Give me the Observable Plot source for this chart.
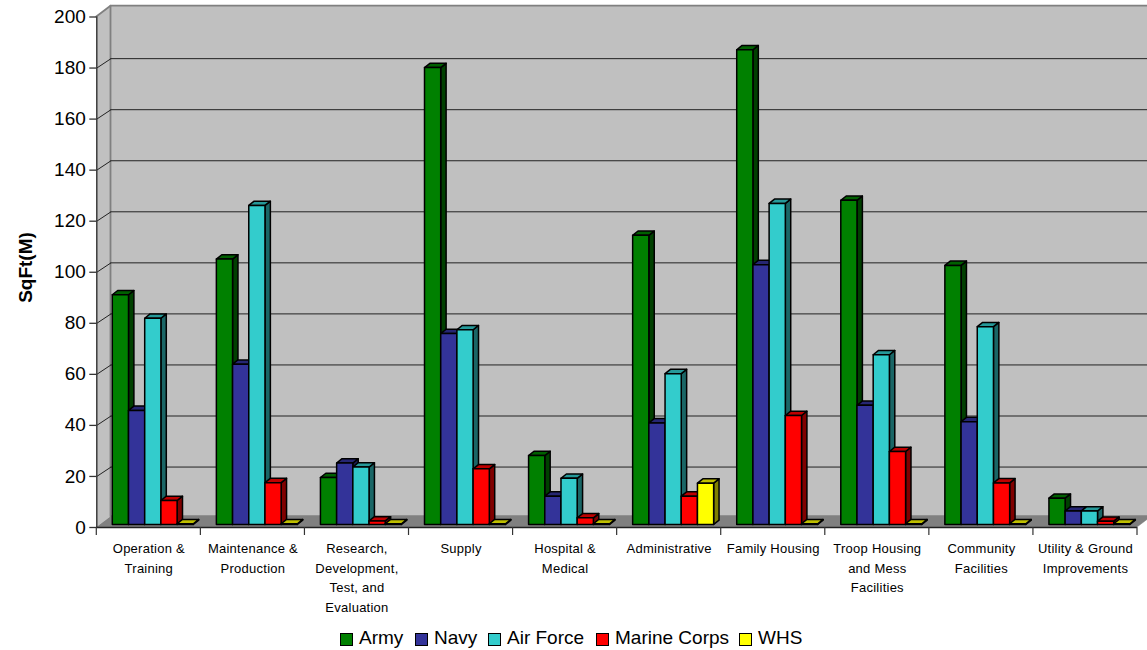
<!DOCTYPE html>
<html>
<head>
<meta charset="utf-8">
<script src="https://cdn.jsdelivr.net/npm/d3@7"></script>
<script src="https://cdn.jsdelivr.net/npm/@observablehq/plot@0.6"></script>
<style>
html,body{margin:0;padding:0;background:#fff;overflow:hidden}
#legend{position:relative;height:25px;font:19px "Liberation Sans",Arial,sans-serif;color:#000}
#legend span.s{position:absolute;top:8px;width:11px;height:11px;border:1.4px solid #000}
#legend span.t{position:absolute;top:0;line-height:25px;white-space:pre}
</style>
</head>
<body>
<div id="chart"></div>
<div id="legend"></div>
<script>
const categories = ["Operation &\nTraining","Maintenance &\nProduction","Research,\nDevelopment,\nTest, and\nEvaluation","Supply","Hospital &\nMedical","Administrative","Family Housing","Troop Housing\nand Mess\nFacilities","Community\nFacilities","Utility & Ground\nImprovements"];
const seriesNames = ["Army","Navy","Air Force","Marine Corps","WHS"];
const army    = [90,104,18.4,179,27,113.3,186,127,101.5,10.3];
const navy    = [44.7,62.8,24.1,74.8,11.1,39.8,101.8,46.7,40.3,5.3];
const airForce= [80.8,125,22.5,76.3,18.1,59.1,125.8,66.5,77.5,5.3];
const marines = [9.4,16.4,1.4,21.8,2.6,11.1,42.7,28.6,16.3,1.3];
const whs     = [0.3,0.3,0.3,0.3,0.3,16.2,0.3,0.3,0.3,0.3];
const yTicks  = d3.range(0,201,20);

const frontColors = ["#008000","#333399","#33CCCC","#FF0000","#FFFF00"];
const sideColors  = ["#004000","#1A1A4D","#1A6666","#800000","#808000"];
const topColors   = ["#006000","#262673","#269999","#BF0000","#BFBF00"];

const W = 1147, H = 625, mL = 96.3, mR = 10, mT = 16.5, mB = 98;
const pxX = (W-mL-mR)/10, pxY = (H-mT-mB)/200;
const wallDX = 14.2, wallDY = 10.8, gridDY = 9.4;
const barDX = 5.4, barDY = 4.3, barShiftY = 2.5;
const barStart = 16/pxX, barW = 16.2/pxX;

const allSeries = [army,navy,airForce,marines,whs];
const bars = [];
categories.forEach((c,i)=>allSeries.forEach((s,j)=>bars.push({i,j,name:seriesNames[j],value:s[i],
  x1:i+barStart+j*barW, x2:i+barStart+(j+1)*barW})));

const NS = "http://www.w3.org/2000/svg";
function poly(pts,fill,stroke,sw){
  const p=document.createElementNS(NS,"polygon");
  p.setAttribute("points",pts.map(d=>d.join(",")).join(" "));
  p.setAttribute("fill",fill);p.setAttribute("stroke",stroke);p.setAttribute("stroke-width",sw);
  p.setAttribute("stroke-linejoin","round");
  return p;
}
function barRender(index,scales,values){
  const g=document.createElementNS(NS,"g");
  for(const k of index){
    const b=bars[k], x1=values.x1[k], x2=values.x2[k], y0=values.y1[k]-barShiftY, y1=values.y2[k]-barShiftY;
    g.appendChild(poly([[x2,y0],[x2+barDX,y0-barDY],[x2+barDX,y1-barDY],[x2,y1]],sideColors[b.j],"#000",1.5));
    g.appendChild(poly([[x1,y1],[x1+barDX,y1-barDY],[x2+barDX,y1-barDY],[x2,y1]],topColors[b.j],"#000",1.5));
    g.appendChild(poly([[x1,y0],[x2,y0],[x2,y1],[x1,y1]],frontColors[b.j],"#000",1.5));
  }
  return g;
}
function wallRender(index,scales,values){
  const g=document.createElementNS(NS,"g");
  const x1=values.x1[0],x2=values.x2[0],y0=values.y1[0],y1=values.y2[0];
  g.appendChild(poly([[x1,y0],[x2,y0],[x2+wallDX,y0-wallDY],[x1+wallDX,y0-wallDY]],"#808080","#808080",0.5));
  g.appendChild(poly([[x1,y0],[x1+wallDX,y0-wallDY],[x1+wallDX,y1-wallDY],[x1,y1]],"#C0C0C0","none",0));
  g.appendChild(poly([[x1+wallDX,y0-wallDY],[x2+wallDX,y0-wallDY],[x2+wallDX,y1-wallDY],[x1+wallDX,y1-wallDY]],"#C0C0C0","#808080",1.8));
  g.appendChild(poly([[x1,y1],[x1+wallDX,y1-wallDY]],"none","#808080",1.8));
  return g;
}

const grid = yTicks.filter(v=>v>0 && v<200);

const chart = Plot.plot({
  width:W, height:H, marginLeft:mL, marginRight:mR, marginTop:mT, marginBottom:mB,
  style:{fontFamily:'"Liberation Sans",Arial,sans-serif',background:"#fff",color:"#000",overflow:"hidden"},
  x:{domain:[0,10],axis:null},
  y:{domain:[0,200],axis:null},
  marks:[
    Plot.rect([{x1:0,x2:10,y1:0,y2:200}],{x1:"x1",x2:"x2",y1:"y1",y2:"y2",render:wallRender}),
    Plot.ruleY(grid,{x1:0,x2:10.2,dx:wallDX,dy:-gridDY,stroke:"#222",strokeWidth:1}),
    Plot.link(grid,{x1:0,y1:v=>v,x2:wallDX/pxX,y2:v=>v+gridDY/pxY,stroke:"#222",strokeWidth:1}),
    Plot.rect(bars,{x1:"x1",x2:"x2",y1:()=>0,y2:"value",render:barRender}),
    Plot.ruleX([0],{y1:0,y2:200,stroke:"#333",strokeWidth:1.4}),
    Plot.ruleY([0],{x1:0,x2:10,stroke:"#222",strokeWidth:1.4}),
    Plot.axisY({ticks:yTicks,tickSize:7,tickPadding:4,fontSize:19,label:null,stroke:"#333",strokeWidth:1.3,color:"#000"}),
    Plot.tickX(d3.range(0,11),{y1:0,y2:0,x:d=>d,render:(index,scales,values)=>{
      const g=document.createElementNS(NS,"g");
      for(const k of index){const l=document.createElementNS(NS,"line");
        l.setAttribute("x1",values.x[k]);l.setAttribute("x2",values.x[k]);
        l.setAttribute("y1",scales.y(0));l.setAttribute("y2",scales.y(0)+8);
        l.setAttribute("stroke","#333");l.setAttribute("stroke-width",1.2);g.appendChild(l);}
      return g;}}),
    Plot.text(categories,{x:(d,i)=>i+0.5,y:()=>0,text:d=>d,dy:12,lineAnchor:"top",lineHeight:1.5,fontSize:13,fill:"#000"}),
    Plot.text(["SqFt(M)"],{x:()=>(25-mL)/pxX,y:()=>(H-mB-267)/pxY,text:d=>d,rotate:-90,fontWeight:"bold",fontSize:19,fill:"#000"})
  ]
});
document.getElementById("chart").appendChild(chart);
chart.style.display="block";
chart.querySelectorAll("text").forEach(t=>{
  const fs=t.closest("[font-size]");
  if(fs && fs.getAttribute("font-size")==="13") t.style.letterSpacing="0.25px";
});

const legend=document.getElementById("legend");
const swatchX=[340,415,488,596,739], textX=[359,434,507,615,758];
seriesNames.forEach((n,j)=>{
  const s=document.createElement("span");s.className="s";s.style.left=swatchX[j]+"px";s.style.background=frontColors[j];legend.appendChild(s);
  const t=document.createElement("span");t.className="t";t.style.left=textX[j]+"px";t.textContent=n;legend.appendChild(t);
});
</script>
</body>
</html>
